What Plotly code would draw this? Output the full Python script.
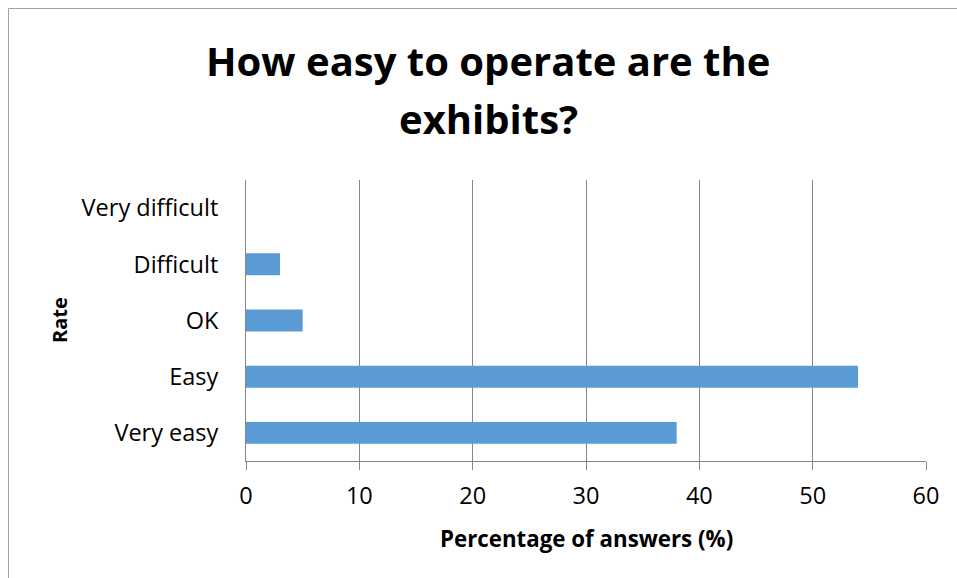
import plotly.graph_objects as go

# Survey answers: share of respondents per rating
categories = ["Very easy", "Easy", "OK", "Difficult", "Very difficult"]
percentages = [38, 54, 5, 3, 0]
x_ticks = [0, 10, 20, 30, 40, 50, 60]
title_lines = ["How easy to operate are the", "exhibits?"]

BAR_COLOR = "#5B9BD5"
GRID_COLOR = "#868686"
FONT = "Open Sans"

W, H = 957, 578
L, R, T, B = 246, 31, 180, 117
plot_w = W - L - R
plot_h = H - T - B


def px_x(px):
    return (px - L) / plot_w


def px_y(py):
    return (H - B - py) / plot_h


fig = go.Figure(
    go.Bar(
        x=percentages,
        y=categories,
        orientation="h",
        marker=dict(color=BAR_COLOR, line=dict(width=0)),
        width=0.39,
    )
)

# Two-line bold title, each line placed separately for wider line spacing
title_annotations = [
    dict(
        text=f"<b>{line}</b>",
        xref="paper", yref="paper",
        x=px_x(488), y=px_y(cy),
        xanchor="center", yanchor="middle",
        showarrow=False,
        font=dict(size=40, family=FONT),
    )
    for line, cy in zip(title_lines, [61, 118])
]

fig.update_layout(
    width=W,
    height=H,
    margin=dict(l=L, r=R, t=T, b=B),
    paper_bgcolor="white",
    plot_bgcolor="white",
    showlegend=False,
    font=dict(family=FONT, color="black"),
    xaxis=dict(
        range=[0, 60],
        tickvals=x_ticks,
        ticktext=[str(v) for v in x_ticks],
        showgrid=True,
        gridcolor=GRID_COLOR,
        gridwidth=1,
        zeroline=False,
        showline=True,
        linecolor=GRID_COLOR,
        linewidth=1,
        ticks="outside",
        ticklen=8,
        tickcolor=GRID_COLOR,
        tickfont=dict(size=23.5, family=FONT),
        ticklabelstandoff=6,
    ),
    yaxis=dict(
        type="category",
        categoryorder="array",
        categoryarray=categories,
        range=[-0.5, 4.5],
        showgrid=False,
        zeroline=False,
        showline=True,
        linecolor=GRID_COLOR,
        linewidth=1,
        ticks="",
        tickfont=dict(size=23.5, family=FONT),
        ticklabelstandoff=22,
    ),
    annotations=title_annotations + [
        dict(
            text="<b>Percentage of answers (%)</b>",
            xref="paper", yref="paper",
            x=px_x(586), y=px_y(538),
            xanchor="center", yanchor="middle",
            showarrow=False,
            font=dict(size=22.3, family=FONT),
        ),
        dict(
            text="<b>Rate</b>",
            xref="paper", yref="paper",
            x=px_x(59), y=px_y(320),
            xanchor="center", yanchor="middle",
            textangle=-90,
            showarrow=False,
            font=dict(size=20, family=FONT),
        ),
    ],
    shapes=[
        dict(
            type="rect",
            xref="paper", yref="paper",
            x0=px_x(8.5), x1=px_x(1000),
            y0=px_y(620), y1=px_y(8.5),
            line=dict(color="#A0A0A0", width=1),
            fillcolor="rgba(0,0,0,0)",
            layer="below",
        )
    ],
)

fig.write_html("out.html")
